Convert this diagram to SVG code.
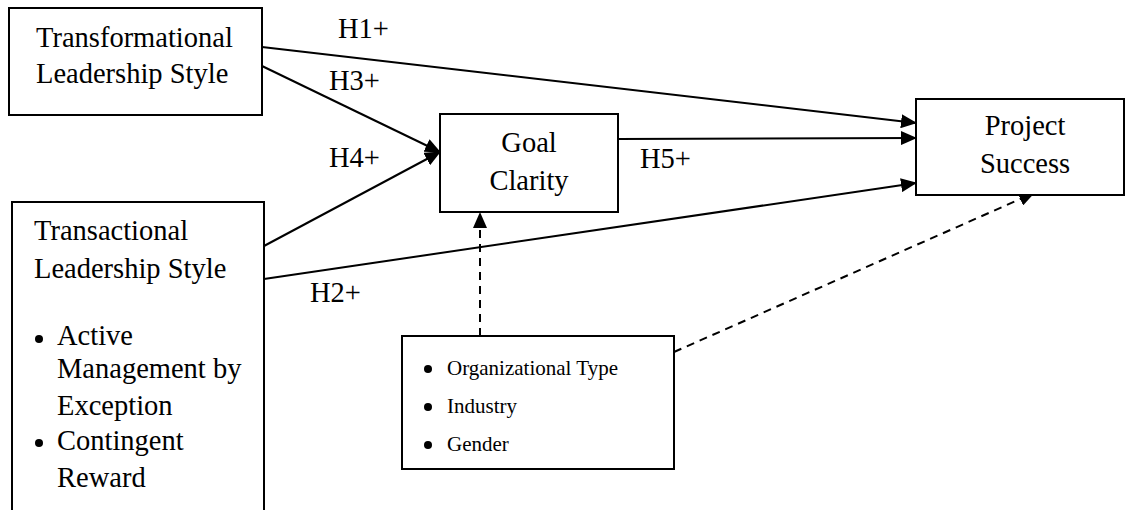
<svg xmlns="http://www.w3.org/2000/svg" width="1128" height="510" viewBox="0 0 1128 510">
<style>
.box{fill:#fff;stroke:#000;stroke-width:2}
.t{font-family:"Liberation Serif","Times New Roman",serif;font-size:28.5px;fill:#000}
.s{font-family:"Liberation Serif","Times New Roman",serif;font-size:21px;fill:#000}
.c{stroke:#000;stroke-width:2;fill:none}
.d{stroke:#000;stroke-width:2;fill:none;stroke-dasharray:8,6}
</style>
<defs>
<marker id="ah" markerWidth="16" markerHeight="14" refX="15" refY="7" orient="auto" markerUnits="userSpaceOnUse">
<path d="M0,0 L16,7 L0,14 Z" fill="#000"/>
</marker>
</defs>
<rect width="1128" height="510" fill="#fff"/>
<g id="connectors">
<line class="c" x1="262" y1="47" x2="916" y2="123" marker-end="url(#ah)"/>
<line class="c" x1="262" y1="66" x2="440" y2="152" marker-end="url(#ah)"/>
<line class="c" x1="264" y1="246" x2="440" y2="152" marker-end="url(#ah)"/>
<line class="c" x1="264" y1="279" x2="916" y2="183" marker-end="url(#ah)"/>
<line class="c" x1="618" y1="139" x2="916" y2="138" marker-end="url(#ah)"/>
<line class="d" x1="480" y1="336" x2="480" y2="213" marker-end="url(#ah)"/>
<line class="d" x1="674" y1="352" x2="1034" y2="193" marker-end="url(#ah)"/>
<text class="t" x="338" y="38">H1+</text>
<text class="t" x="329" y="90">H3+</text>
<text class="t" x="329" y="167">H4+</text>
<text class="t" x="310" y="302">H2+</text>
<text class="t" x="640" y="168">H5+</text>
</g>
<g id="transformational">
<rect class="box" x="9" y="8" width="253" height="107"/>
<text class="t" x="36" y="47">Transformational</text>
<text class="t" x="36" y="83">Leadership Style</text>
</g>
<g id="transactional">
<rect class="box" x="12" y="202" width="252" height="320"/>
<text class="t" x="34" y="240">Transactional</text>
<text class="t" x="34" y="278">Leadership Style</text>
<circle cx="39" cy="339" r="4"/>
<text class="t" x="57" y="345">Active</text>
<text class="t" x="57" y="378">Management by</text>
<text class="t" x="57" y="415">Exception</text>
<circle cx="39" cy="443" r="4"/>
<text class="t" x="57" y="450">Contingent</text>
<text class="t" x="57" y="487">Reward</text>
</g>
<g id="goal">
<rect class="box" x="440" y="114" width="178" height="98"/>
<text class="t" x="529" y="152" text-anchor="middle">Goal</text>
<text class="t" x="529" y="190" text-anchor="middle">Clarity</text>
</g>
<g id="project">
<rect class="box" x="916" y="99" width="208" height="96"/>
<text class="t" x="1025" y="135" text-anchor="middle">Project</text>
<text class="t" x="1025" y="173" text-anchor="middle">Success</text>
</g>
<g id="controls">
<rect class="box" x="402" y="336" width="272" height="133"/>
<circle cx="428" cy="369" r="4"/>
<circle cx="428" cy="407" r="4"/>
<circle cx="428" cy="445" r="4"/>
<text class="s" x="447" y="375">Organizational Type</text>
<text class="s" x="447" y="413">Industry</text>
<text class="s" x="447" y="451">Gender</text>
</g>
</svg>
